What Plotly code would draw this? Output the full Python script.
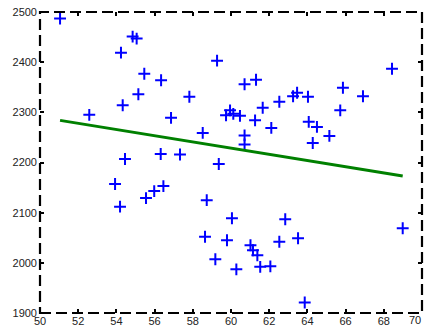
import plotly.graph_objects as go

# Observations
x_vals = [51.05, 54.24, 54.85, 55.06, 55.46, 56.34, 55.15, 54.33, 52.58, 56.86,
          57.82, 58.52, 59.27, 54.45, 56.32, 57.33, 53.93, 54.19, 55.55, 55.98,
          56.46, 58.73, 58.64, 59.18, 59.36, 60.05, 59.79, 60.28, 61.02, 61.15,
          61.38, 61.53, 62.06, 62.53, 62.84, 63.51, 63.86, 68.99, 60.71, 61.31,
          59.74, 59.95, 60.12, 60.47, 61.66, 61.26, 62.53, 63.25, 63.46, 64.03,
          62.11, 60.71, 60.71, 64.07, 64.50, 64.28, 65.15, 65.72, 65.86, 66.91,
          68.43]
y_vals = [2487, 2419, 2451, 2447, 2377, 2364, 2336, 2314, 2295, 2289,
          2331, 2259, 2403, 2207, 2217, 2216, 2157, 2112, 2129, 2143,
          2153, 2125, 2052, 2007, 2197, 2089, 2045, 1987, 2035, 2025,
          2015, 1992, 1993, 2042, 2087, 2049, 1921, 2069, 2356, 2365,
          2294, 2304, 2297, 2293, 2309, 2284, 2321, 2332, 2339, 2331,
          2269, 2254, 2236, 2281, 2271, 2239, 2253, 2304, 2349, 2332,
          2387]

# Fitted trend line end points
fit_x = [51.05, 68.99]
fit_y = [2284, 2173]

x_ticks = list(range(50, 71, 2))
y_ticks = list(range(1900, 2501, 100))

tick_font = dict(family="Liberation Sans, Arial", size=11, color="#222222")

fig = go.Figure()
fig.add_trace(go.Scatter(
    x=x_vals, y=y_vals, mode="markers",
    marker=dict(symbol="cross-thin-open", size=8.5, color="#0000ff",
                line=dict(color="#0000ff", width=2)),
    showlegend=False, cliponaxis=False))
fig.add_trace(go.Scatter(
    x=fit_x, y=fit_y, mode="lines",
    line=dict(color="#008000", width=3),
    showlegend=False))

axis_common = dict(
    showgrid=False, zeroline=False, showline=False,
    ticks="inside", ticklen=4, tickwidth=2, tickcolor="black",
    mirror="ticks", tickfont=tick_font,
)
fig.update_xaxes(range=[50, 70], tickvals=x_ticks, ticklabelstandoff=0,
                 **axis_common)
fig.update_yaxes(range=[1900, 2500], tickvals=y_ticks, ticklabelstandoff=2,
                 **axis_common)

# Last x tick label, nudged inward so it stays on the page
fig.add_annotation(x=x_ticks[-1], xref="x", y=0, yref="paper",
                   text=str(x_ticks[-1]), showarrow=False,
                   xanchor="right", yanchor="top", yshift=1, xshift=1,
                   font=tick_font)

# Dashed box frame
fig.add_shape(type="rect", xref="paper", yref="paper", x0=0, y0=0, x1=1, y1=1,
              line=dict(color="black", width=2.2, dash="11px,5px"),
              layer="above")

fig.update_layout(
    width=424, height=331,
    margin=dict(l=40, r=2, t=12, b=18),
    paper_bgcolor="white", plot_bgcolor="white",
)

fig.write_html("out.html")
